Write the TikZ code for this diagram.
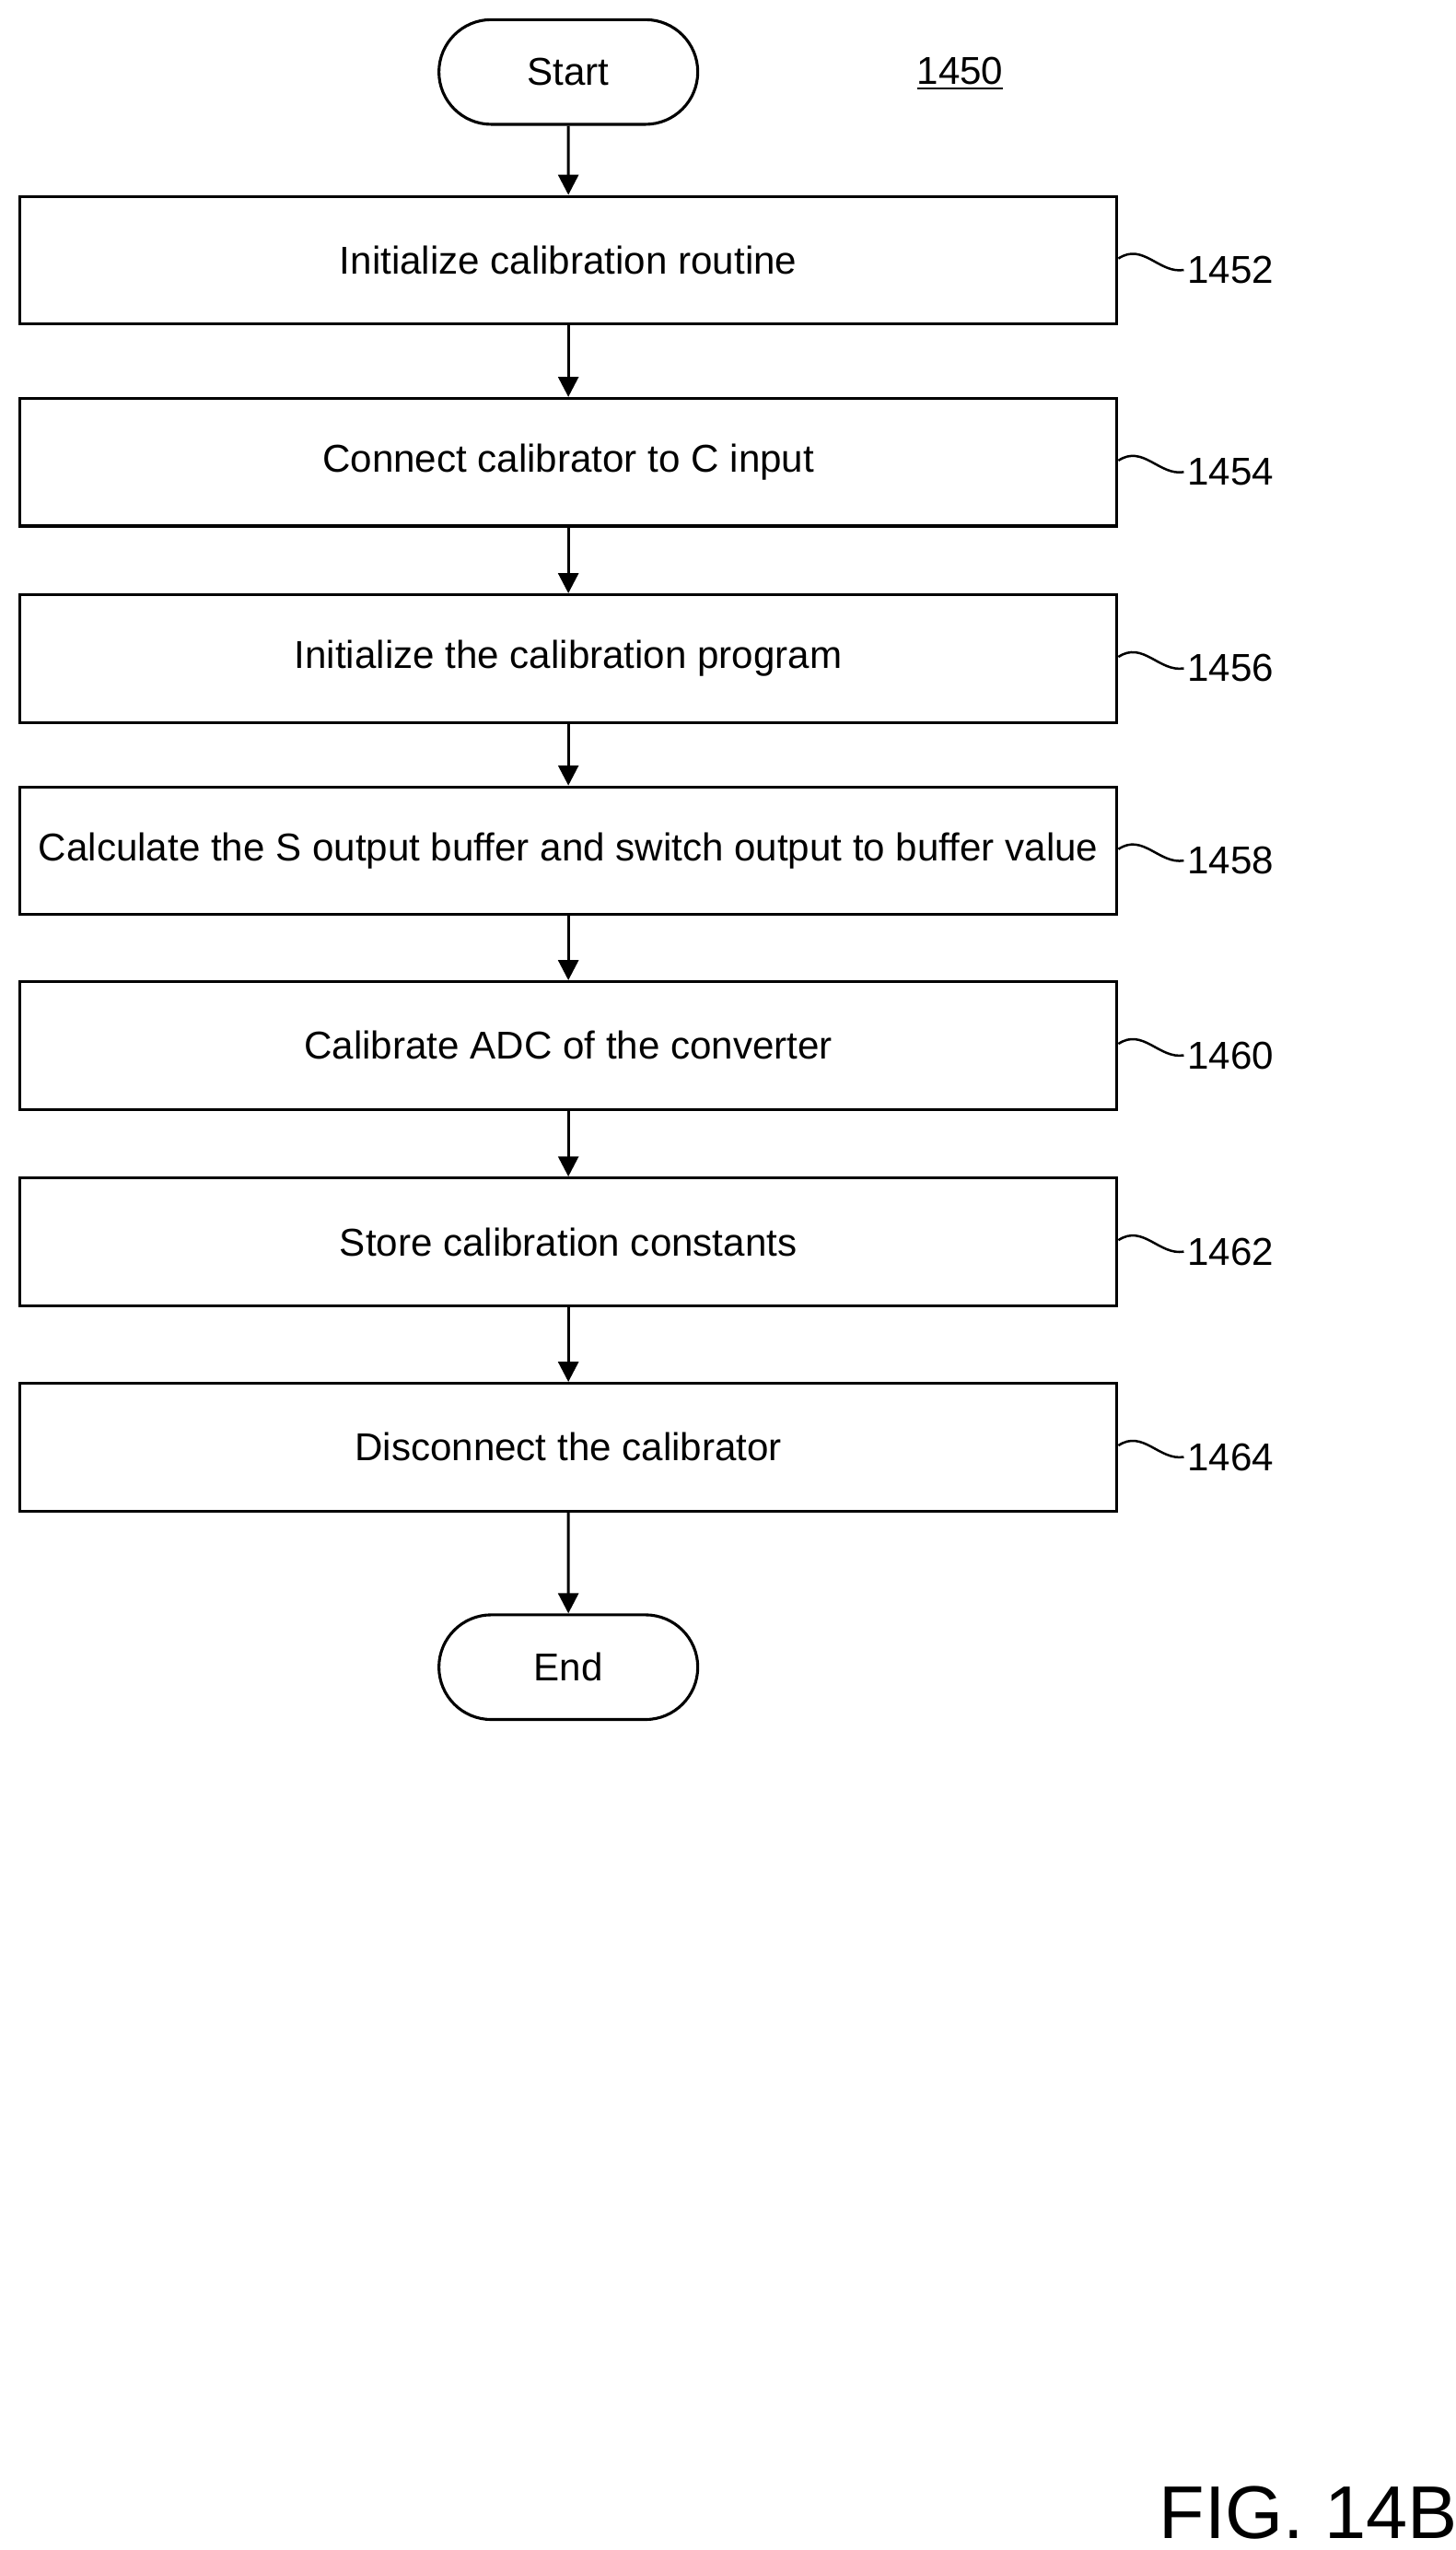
\documentclass[tikz,border=0pt]{standalone}
\usepackage{fontspec}
\setmainfont{Liberation Sans}
\usetikzlibrary{shapes.misc,arrows.meta}

\tikzset{%
  stepbox/.style={draw, line width=1pt, minimum width=13.42cm, minimum height=1.56cm,
    font=\fontsize{13.5}{16}\selectfont},
  term/.style={draw, line width=1pt, rounded rectangle, minimum width=3.4cm,
    minimum height=1.28cm, font=\fontsize{13.5}{16}\selectfont},
  flow/.style={line width=1pt, -{Triangle[length=7pt,width=7pt]}},
  ref/.style={font=\fontsize{13.5}{16}\selectfont, anchor=west},
}

\begin{document}
\begin{tikzpicture}[%
      x=0.02cm, y=-0.02cm,
      ]
      \useasboundingbox (0,0) rectangle (890,1558.6);

      \node [term] (start) at (347.5,44) {Start};
      \node [font=\fontsize{13.5}{16}\selectfont] (fignum) at (587,45) {\underline{1450}};

      \node [stepbox] (s1452) at (347.5,159)   {Initialize calibration routine};
      \node [stepbox] (s1454) at (347.5,282.5) {Connect calibrator to C input};
      \node [stepbox] (s1456) at (347.5,402.5) {Initialize the calibration program};
      \node [stepbox] (s1458) at (347.5,520)   {Calculate the S output buffer and switch output to buffer value};
      \node [stepbox] (s1460) at (347.5,639)   {Calibrate ADC of the converter};
      \node [stepbox] (s1462) at (347.5,759)   {Store calibration constants};
      \node [stepbox] (s1464) at (347.5,884.5) {Disconnect the calibrator};

      \node [term] (end) at (347.5,1019) {End};

      \draw [flow] (start) -- (s1452);
      \draw [flow] (s1452) -- (s1454);
      \draw [flow] (s1454) -- (s1456);
      \draw [flow] (s1456) -- (s1458);
      \draw [flow] (s1458) -- (s1460);
      \draw [flow] (s1460) -- (s1462);
      \draw [flow] (s1462) -- (s1464);
      \draw [flow] (s1464) -- (end);

      % reference numerals
      \foreach \s/\lbl in {s1452/1452, s1454/1454, s1456/1456, s1458/1458,
                           s1460/1460, s1462/1462, s1464/1464} {
        \coordinate (w\s) at ([xshift=0.8cm,yshift=-0.12cm]\s.east);
        \draw [line width=0.8pt] ([yshift=0.02cm]\s.east)
          .. controls +(0.3cm,0.2cm) and +(-0.3cm,-0.05cm) .. (w\s);
        \node [ref, inner sep=1pt] at (w\s) {\lbl};
      }

      \node [font=\fontsize{26}{30}\selectfont] (fig) at (800,1536) {FIG. 14B};
      \end{tikzpicture}
\end{document}
